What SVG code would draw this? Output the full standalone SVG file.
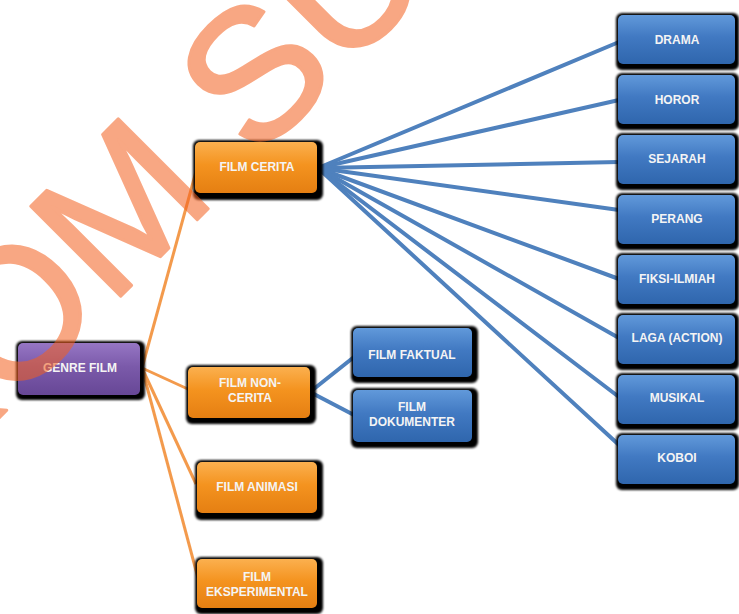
<svg xmlns="http://www.w3.org/2000/svg" width="739" height="614" viewBox="0 0 739 614">
<defs>
<linearGradient id="gOr" x1="0" y1="0" x2="0" y2="1">
<stop offset="0" stop-color="#FBB04F"/><stop offset="0.45" stop-color="#F4931F"/><stop offset="1" stop-color="#E57F12"/>
</linearGradient>
<linearGradient id="gBl" x1="0" y1="0" x2="0" y2="1">
<stop offset="0" stop-color="#6199DA"/><stop offset="0.45" stop-color="#4179C2"/><stop offset="1" stop-color="#2F66AD"/>
</linearGradient>
<linearGradient id="gPu" x1="0" y1="0" x2="0" y2="1">
<stop offset="0" stop-color="#9676C4"/><stop offset="0.45" stop-color="#7B5AAA"/><stop offset="1" stop-color="#674796"/>
</linearGradient>
<filter id="blur" x="-10%" y="-10%" width="120%" height="130%"><feGaussianBlur stdDeviation="1"/></filter>
</defs>
<style>
.sh{fill:#000;filter:url(#blur)}
.or{fill:url(#gOr)}
.bl{fill:url(#gBl)}
.pu{fill:url(#gPu)}
.t{font-family:"Liberation Sans",Arial,sans-serif;font-weight:bold;font-size:12px;fill:#F4F4F4;text-anchor:middle}
.co{stroke:#F39A4C;stroke-width:3;fill:none}
.cb{stroke:#4F81BD;stroke-width:4;fill:none;stroke-linecap:round}
.wm{font-family:"Liberation Sans",Arial,sans-serif;font-size:185px;fill:#F4601E;stroke:#F4601E;stroke-width:3;stroke-linejoin:round;opacity:0.55}
</style>
<g id="connectors">
<line class="co" x1="142" y1="368" x2="197" y2="168"/>
<line class="co" x1="142" y1="368" x2="190" y2="390"/>
<line class="co" x1="142" y1="368" x2="196" y2="484"/>
<line class="co" x1="142" y1="368" x2="198" y2="578"/>
<line class="cb" x1="318" y1="168" x2="619" y2="42"/>
<line class="cb" x1="318" y1="168" x2="619" y2="100"/>
<line class="cb" x1="318" y1="168" x2="619" y2="162"/>
<line class="cb" x1="318" y1="168" x2="619" y2="210"/>
<line class="cb" x1="318" y1="168" x2="619" y2="279"/>
<line class="cb" x1="318" y1="168" x2="619" y2="338"/>
<line class="cb" x1="318" y1="168" x2="619" y2="397"/>
<line class="cb" x1="318" y1="168" x2="619" y2="445"/>
<line class="cb" x1="310" y1="392" x2="354" y2="357"/>
<line class="cb" x1="310" y1="392" x2="354" y2="415"/>
</g>
<g id="genre-film">
<rect class="sh" x="16" y="341" width="129" height="59" rx="6"/>
<rect class="pu" x="18" y="343" width="122" height="52" rx="5"/>
<text class="t" x="80" y="372">GENRE FILM</text>
</g>
<g id="film-cerita">
<rect class="sh" x="193" y="140" width="130" height="60" rx="6"/>
<rect class="or" x="195" y="142" width="122" height="51" rx="5"/>
<text class="t" x="257" y="171">FILM CERITA</text>
</g>
<g id="film-non-cerita">
<rect class="sh" x="186" y="365" width="130" height="59" rx="6"/>
<rect class="or" x="188" y="367" width="122" height="51" rx="5"/>
<text class="t" x="250" y="387">FILM NON-</text>
<text class="t" x="250" y="402">CERITA</text>
</g>
<g id="film-animasi">
<rect class="sh" x="195" y="460" width="128" height="60" rx="6"/>
<rect class="or" x="197" y="462" width="120" height="51" rx="5"/>
<text class="t" x="257" y="491">FILM ANIMASI</text>
</g>
<g id="film-eksperimental">
<rect class="sh" x="195" y="557" width="128" height="57" rx="6"/>
<rect class="or" x="197" y="559" width="120" height="49" rx="5"/>
<text class="t" x="257" y="581">FILM</text>
<text class="t" x="257" y="596">EKSPERIMENTAL</text>
</g>
<g id="film-faktual">
<rect class="sh" x="351" y="326" width="127" height="57" rx="6"/>
<rect class="bl" x="353" y="328" width="119" height="49" rx="5"/>
<text class="t" x="412" y="359">FILM FAKTUAL</text>
</g>
<g id="film-dokumenter">
<rect class="sh" x="351" y="388" width="127" height="60" rx="6"/>
<rect class="bl" x="353" y="390" width="119" height="52" rx="5"/>
<text class="t" x="412" y="411">FILM</text>
<text class="t" x="412" y="426">DOKUMENTER</text>
</g>
<g id="drama">
<rect class="sh" x="616" y="13" width="123" height="57" rx="6"/>
<rect class="bl" x="618" y="15" width="117" height="49" rx="5"/>
<text class="t" x="677" y="44">DRAMA</text>
</g>
<g id="horor">
<rect class="sh" x="616" y="73" width="123" height="57" rx="6"/>
<rect class="bl" x="618" y="75" width="117" height="49" rx="5"/>
<text class="t" x="677" y="104">HOROR</text>
</g>
<g id="sejarah">
<rect class="sh" x="616" y="133" width="123" height="57" rx="6"/>
<rect class="bl" x="618" y="135" width="117" height="49" rx="5"/>
<text class="t" x="677" y="163">SEJARAH</text>
</g>
<g id="perang">
<rect class="sh" x="616" y="193" width="123" height="57" rx="6"/>
<rect class="bl" x="618" y="195" width="117" height="49" rx="5"/>
<text class="t" x="677" y="223">PERANG</text>
</g>
<g id="fiksi-ilmiah">
<rect class="sh" x="616" y="253" width="123" height="57" rx="6"/>
<rect class="bl" x="618" y="255" width="117" height="49" rx="5"/>
<text class="t" x="677" y="283">FIKSI-ILMIAH</text>
</g>
<g id="laga">
<rect class="sh" x="616" y="313" width="123" height="57" rx="6"/>
<rect class="bl" x="618" y="315" width="117" height="49" rx="5"/>
<text class="t" x="677" y="342">LAGA (ACTION)</text>
</g>
<g id="musikal">
<rect class="sh" x="616" y="373" width="123" height="57" rx="6"/>
<rect class="bl" x="618" y="375" width="117" height="49" rx="5"/>
<text class="t" x="677" y="402">MUSIKAL</text>
</g>
<g id="koboi">
<rect class="sh" x="616" y="433" width="123" height="57" rx="6"/>
<rect class="bl" x="618" y="435" width="117" height="49" rx="5"/>
<text class="t" x="677" y="462">KOBOI</text>
</g>
<text class="wm" transform="translate(110,307) rotate(-45)" x="-555" y="0">STIKOM SURABAYA</text>
</svg>
